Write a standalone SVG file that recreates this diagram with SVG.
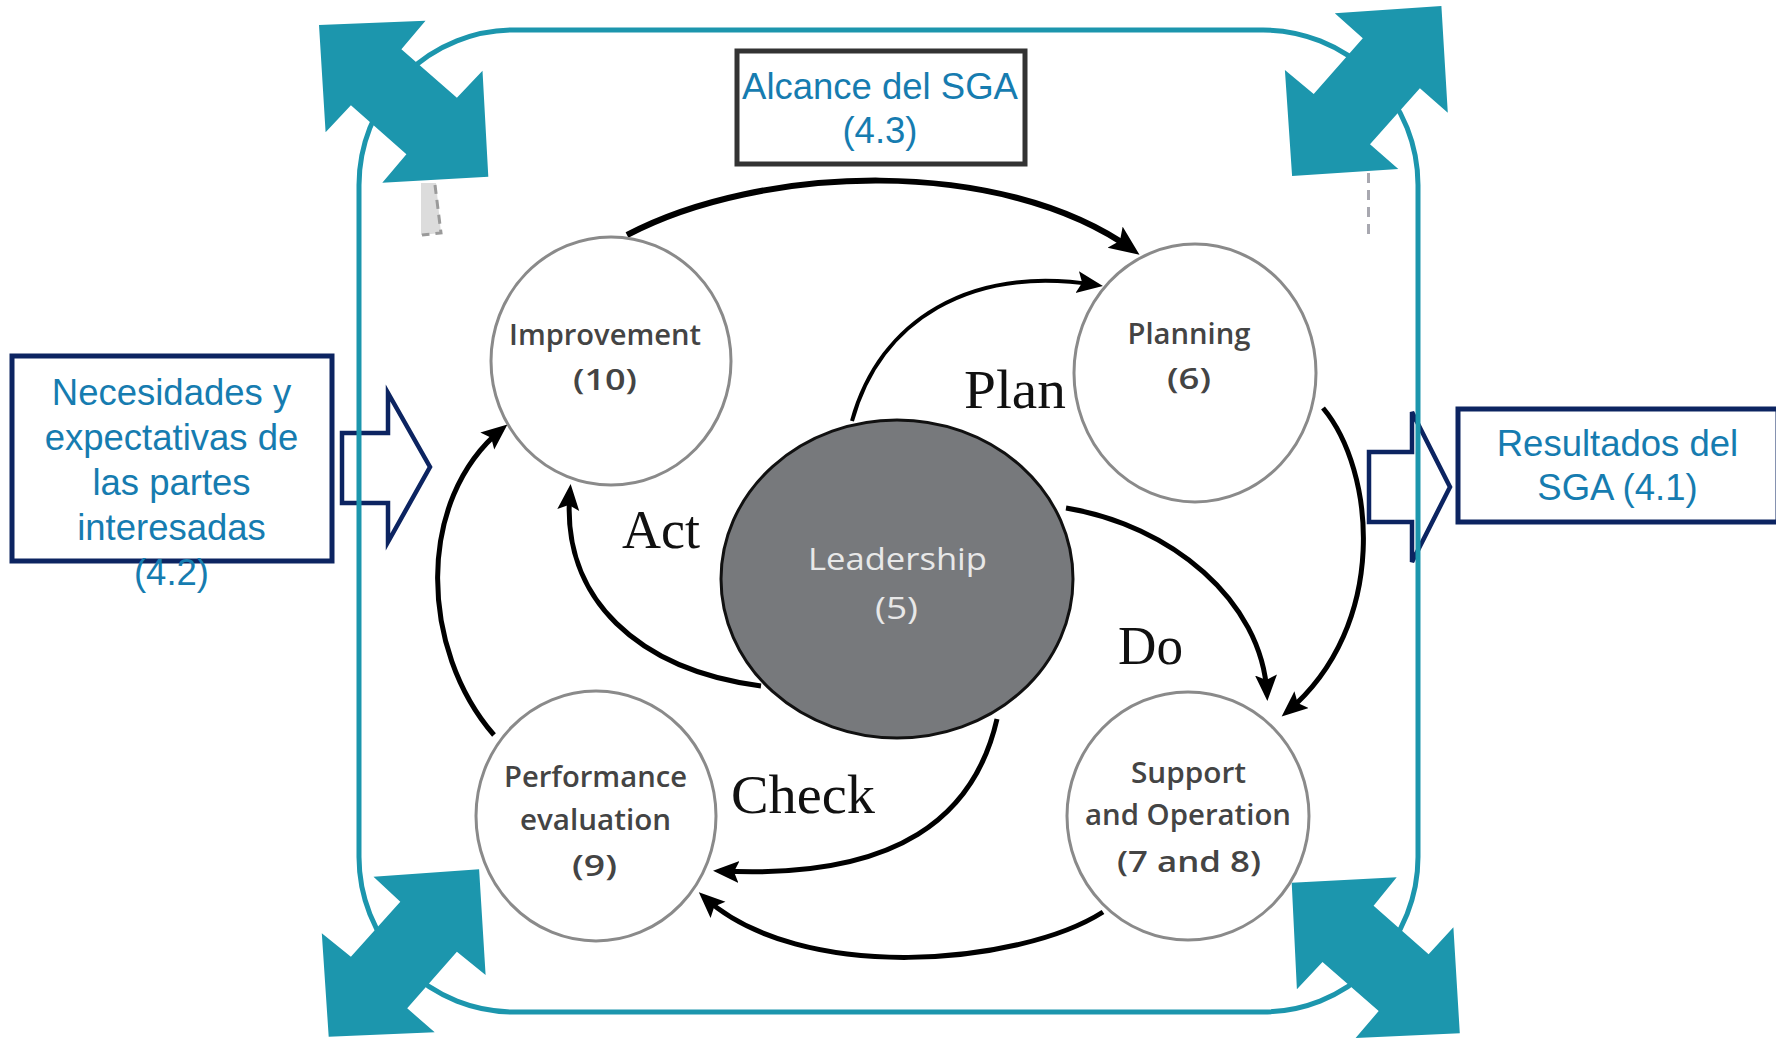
<svg xmlns="http://www.w3.org/2000/svg" width="1776" height="1038" viewBox="0 0 1776 1038">
<style>
.sga{font-family:"Liberation Sans",Arial,sans-serif;font-size:36.5px;fill:#167cb0;text-anchor:middle}
.box{fill:#fff;stroke:#0c2461;stroke-width:5}
.hollow{fill:none;stroke:#0c2461;stroke-width:4.5;stroke-linejoin:miter}
.teal{fill:#1c96ad}
.circ{fill:#fff;stroke:#8a8a8a;stroke-width:3}
.lbl{font-family:"Open Sans","Noto Sans",sans-serif;font-size:29px;font-weight:600;fill:#444;text-anchor:middle}
.pdca{font-family:"Liberation Serif","Times New Roman",serif;font-size:54px;fill:#111}
.con{fill:none;stroke:#000;stroke-width:5}
</style>
<defs>
<marker id="ah" markerUnits="userSpaceOnUse" markerWidth="32" markerHeight="26" refX="19" refY="11" orient="auto">
<path d="M0,0 L26,11 L0,22 L5,11 Z" fill="#000"/>
</marker>
<marker id="ahL" markerUnits="userSpaceOnUse" markerWidth="36" markerHeight="30" refX="22" refY="13" orient="auto">
<path d="M0,0 L30,13 L0,26 L6,13 Z" fill="#000"/>
</marker>
</defs>
<rect width="1776" height="1038" fill="#fff"/>

<g id="input-arrow"><polygon class="hollow" points="342,433 388,433 388,393 430,467 388,542 388,503 342,503"/></g>
<g id="output-arrow"><polygon class="hollow" points="1369,452 1412,452 1412,412 1450,487 1412,562 1412,522 1369,522"/></g>

<g id="frame"><rect x="359" y="30" width="1059" height="982" rx="155" ry="155" fill="none" stroke="#1c96ad" stroke-width="5"/></g>

<g id="needs">
<rect class="box" x="12" y="356" width="320" height="205"/>
<text class="sga" x="171.5" y="405">Necesidades y</text>
<text class="sga" x="171.5" y="450">expectativas de</text>
<text class="sga" x="171.5" y="495">las partes</text>
<text class="sga" x="171.5" y="540">interesadas</text>
<text class="sga" x="171.5" y="585">(4.2)</text>
</g>

<g id="results">
<rect class="box" x="1458" y="409" width="320" height="113"/>
<text class="sga" x="1617.5" y="456">Resultados del</text>
<text class="sga" x="1617.5" y="500">SGA (4.1)</text>
</g>

<g id="scope">
<rect x="737" y="51" width="288" height="113" fill="#fff" stroke="#333" stroke-width="5"/>
<text class="sga" x="880" y="99">Alcance del SGA</text>
<text class="sga" x="880" y="143">(4.3)</text>
</g>

<g id="marks">
<polygon points="421,183 436,183 441,233 421,235" fill="#dcdcdc"/>
<path d="M435,185 L441,233 L422,235" fill="none" stroke="#9a9a9a" stroke-width="3" stroke-dasharray="9 6"/>
<line x1="1368.5" y1="173" x2="1368.5" y2="238" stroke="#a8a8b0" stroke-width="3" stroke-dasharray="10 7"/>
</g>

<g id="connectors">
<path class="con" style="stroke-width:6" d="M627,235 C760,165 1000,155 1133,250" marker-end="url(#ahL)"/>
<path class="con" style="stroke-width:4" d="M852,421 C880,320 970,265 1096,285" marker-end="url(#ah)"/>
<path class="con" d="M1066,508 C1170,525 1262,600 1267,694" marker-end="url(#ah)"/>
<path class="con" d="M1323,408 C1375,470 1390,625 1287,712" marker-end="url(#ah)"/>
<path class="con" d="M997,719 C975,815 900,880 720,871" marker-end="url(#ah)"/>
<path class="con" d="M1103,912 C1020,965 800,985 704,897" marker-end="url(#ah)"/>
<path class="con" d="M494,735 C420,650 415,500 502,429" marker-end="url(#ah)"/>
<path class="con" d="M761,686 C640,670 560,600 570,491" marker-end="url(#ah)"/>
</g>

<g id="improvement">
<ellipse class="circ" cx="611" cy="361" rx="120" ry="124"/>
<text class="lbl" x="605" y="345" textLength="192" lengthAdjust="spacingAndGlyphs">Improvement</text>
<text class="lbl" x="605" y="390" textLength="64" lengthAdjust="spacingAndGlyphs">(10)</text>
</g>
<g id="planning">
<ellipse class="circ" cx="1195" cy="373" rx="121" ry="129"/>
<text class="lbl" x="1189" y="344" textLength="123" lengthAdjust="spacingAndGlyphs">Planning</text>
<text class="lbl" x="1189" y="389" textLength="44" lengthAdjust="spacingAndGlyphs">(6)</text>
</g>
<g id="leadership">
<ellipse cx="897" cy="579" rx="176" ry="159" fill="#77797c" stroke="#111" stroke-width="3"/>
<text class="lbl" style="font-size:31px;font-weight:400;fill:#e8e8e8" x="897.5" y="570" textLength="179" lengthAdjust="spacingAndGlyphs">Leadership</text>
<text class="lbl" style="font-size:31px;font-weight:400;fill:#e8e8e8" x="896.5" y="619" textLength="43" lengthAdjust="spacingAndGlyphs">(5)</text>
</g>
<g id="performance">
<ellipse class="circ" cx="596" cy="816" rx="120" ry="125"/>
<text class="lbl" x="595.5" y="787" textLength="183" lengthAdjust="spacingAndGlyphs">Performance</text>
<text class="lbl" x="595.5" y="830" textLength="151" lengthAdjust="spacingAndGlyphs">evaluation</text>
<text class="lbl" x="594.5" y="876" textLength="45" lengthAdjust="spacingAndGlyphs">(9)</text>
</g>
<g id="support">
<ellipse class="circ" cx="1188" cy="816" rx="121" ry="124"/>
<text class="lbl" x="1188.5" y="783" textLength="115" lengthAdjust="spacingAndGlyphs">Support</text>
<text class="lbl" x="1188" y="825" textLength="206" lengthAdjust="spacingAndGlyphs">and Operation</text>
<text class="lbl" x="1189" y="872" textLength="144" lengthAdjust="spacingAndGlyphs">(7 and 8)</text>
</g>

<g id="pdca-labels">
<text class="pdca" x="964" y="408" textLength="102" lengthAdjust="spacingAndGlyphs">Plan</text>
<text class="pdca" x="1118" y="664" textLength="65" lengthAdjust="spacingAndGlyphs">Do</text>
<text class="pdca" x="731" y="813" textLength="144" lengthAdjust="spacingAndGlyphs">Check</text>
<text class="pdca" x="622" y="548" textLength="78" lengthAdjust="spacingAndGlyphs">Act</text>
</g>

<g id="corner-arrows">
<polygon class="teal" points="319,25 425.5,20.7 401.4,49.3 456.9,97.7 482.5,70.7 488.3,176.7 382.3,182.7 406.4,154.3 350.9,105.3 325.6,132.3"/>
<polygon class="teal" points="1441.4,6 1334.8,13.3 1362.8,38.3 1313.7,94 1284.9,70 1292.1,176 1398.3,169 1370,144.3 1419.9,88.3 1447.8,112.7"/>
<polygon class="teal" points="479.1,869.3 485.6,975 456.9,951.7 407.2,1008.3 434.7,1032.3 328.7,1036.7 321.8,933.3 350.9,956.7 400.3,901.7 373.5,876.7"/>
<polygon class="teal" points="1291.7,882.7 1396.7,877.3 1373.6,905.7 1428.6,954.3 1453.4,927.3 1459.8,1033.3 1355.6,1038 1378.7,1011 1322.5,962 1296.9,989.3"/>
</g>
</svg>
